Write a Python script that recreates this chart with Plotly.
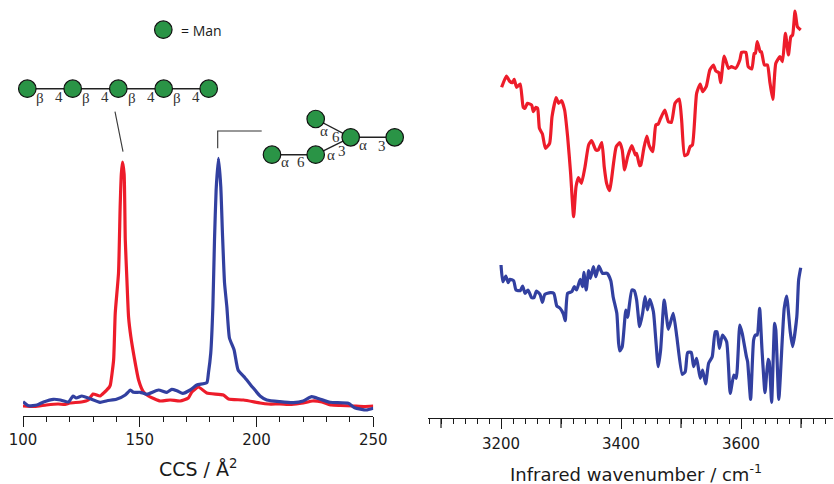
import plotly.graph_objects as go

# ---- Collision cross section data (CCS in A^2, relative intensity) ----
ccs_red_x = [100,105,110,115,118,120,125,128,130,133,135,137,137.4,138.8,139.5,140.9,141.6,142.1,142.6,143.3,143.8,144.5,145.2,146.2,147.6,149.5,151.6,153.7,158.8,163,167.3,170.8,172.3,175.1,178.7,185.8,188,194.4,201.5,205,210,215,220,224,228,232,236,241.4,246,250]
ccs_red_y = [10,9.5,11,12,11.5,13,14,16,22,20,24,29,31,56,103,143,209,242,254,242,176,136,99,79,59,36,24,20,15,16,15,18,24,29,23,21,17,16,13,12,12,11.5,13,15,14,11,10.5,10,9.5,10]
ccs_blue_x = [100,102.4,106,108.8,113,116,119.5,121.4,122.8,125.2,128,133,136,140,143.8,146,147.3,150.2,153,158,161.6,163.7,165.9,168.4,171.6,174.4,178.7,179.4,180.4,181.3,182,182.7,183.7,184.7,185.4,186.3,187.3,188.4,190.4,192.1,195.1,198.6,201.5,204.4,210,215.8,220,223.6,227,231.5,239.3,242,247,250]
ccs_blue_y = [14.3,10.3,11,14,16.7,16,14,20,18,20,18,13.7,15.3,16.7,21,26,23.7,23.7,21.7,26,23.7,26.7,25.3,22.7,26,31,33.3,43,63,109,176,226,257.7,229,183,133,109,78,66,46,38,28,20,16,14.3,13.3,15,19.3,17,13.7,12.7,8.3,6,7.7]

# ---- Infrared spectra (wavenumber in cm-1, offset intensity) ----
ir_red_x = [3201,3209,3214,3219,3222,3226,3232,3237,3240,3244,3251,3254,3258,3261,3264,3269,3274,3281,3285,3292,3296,3301,3306,3311,3316,3321,3325,3329,3334,3340,3346,3351,3358,3362,3368,3372,3376,3381,3384,3392,3398,3402,3406,3411,3418,3424,3426,3431,3433,3438,3443,3447,3453,3458,3462,3466,3473,3479,3484,3490,3497,3501,3506,3511,3515,3519,3526,3532,3536,3542,3548,3554,3558,3563,3566,3572,3579,3584,3591,3598,3601,3608,3612,3618,3622,3624,3627,3632,3634,3639,3644,3648,3653,3658,3665,3669,3674,3679,3683,3686,3690,3694,3699.5]
ir_red_y = [328.7,340,335,333.3,336.7,328.7,332,308.7,307.7,312.7,311,304.3,308.7,307.7,287.7,282,267.7,272.7,299.3,318.3,312.7,315.3,306,279.3,242.7,199.3,229.3,238.3,232.7,249.3,271,275.3,266,266,273.3,249.3,232.7,225.3,236,269.3,273.3,266,246,259.3,270.3,261,262.7,250.3,251,267.7,280,270.3,264.3,291,292,297.7,306,294.3,293.7,312.7,317,296,260.3,262,269.3,271,322.7,332,324.3,329.3,346,351,345,343.3,333.3,360,347.7,349.3,347.7,356,363.7,363.7,349.3,347,362.7,362.7,374.3,364.3,364.3,351,351,334.3,316.7,352.7,359.3,354.3,382.7,361,379.3,381,405,389.3,386]
ir_blue_x = [3200,3203,3208,3212,3215,3221,3225,3232,3236,3240,3245,3251,3255,3259,3265,3269,3273,3282,3288,3293,3298,3304,3307,3311,3318,3322,3326,3332,3336,3338,3342,3346,3349,3354,3358,3363,3369,3377,3383,3387,3393,3396,3398,3402,3408,3411,3418,3422,3426,3431,3436,3440,3444,3448,3454,3458,3462,3466,3472,3479,3487,3493,3502,3507,3511,3517,3521,3526,3532,3536,3541,3546,3552,3557,3560,3564,3569,3576,3582,3588,3592,3598,3602,3609,3611,3616,3621,3624,3627,3631,3635,3640,3645,3647,3651,3656,3658,3663,3669,3672,3676,3682,3686,3693,3696,3699.5]
ir_blue_y = [151,134.3,140,133.3,136.7,135.3,126,125.3,130,122.7,126,118.3,118.3,125,121.7,113.7,121.7,123.3,122.7,110,108,102,95.3,122.7,124.3,129.3,126,136.7,129.3,143.7,126,145.3,137.7,149.3,139.3,150,142.7,142.7,135.3,118.7,102.7,72.7,65,69.3,106,98.7,126,125.3,116,89.3,102.7,119.3,106,116.7,104.3,76,49.3,66,116,86.7,102.7,79.3,41.7,44.3,63.3,63.7,49.3,57.7,37.7,46,32,52.7,59.3,84.3,84.3,67.7,81,74.3,22.7,41,37.7,91,82.7,59.3,54.3,16.7,76,81,81,107.7,66,23.3,56.7,54.3,13.7,92.7,86,16.7,79.3,107.7,120,84.3,69.3,99.3,136,148.3]

ccs_ticks = [100, 150, 200, 250]
ir_ticks = [3200, 3400, 3600]
ir_long_ticks = [3100, 3300, 3500, 3700]

RED = "#ED1C2A"
BLUE = "#3240A0"
GREEN = "#2A9446"
INK = "#1a1a1a"
FONT = "DejaVu Sans"
W, H = 834, 484

fig = go.Figure()

for xs, ys, c, xa, ya, name in [
    (ccs_red_x, ccs_red_y, RED, "x", "y", "β-linked"),
    (ccs_blue_x, ccs_blue_y, BLUE, "x", "y", "α-linked"),
    (ir_red_x, ir_red_y, RED, "x2", "y2", "β-linked IR"),
    (ir_blue_x, ir_blue_y, BLUE, "x2", "y2", "α-linked IR"),
]:
    fig.add_trace(go.Scatter(x=xs, y=ys, mode="lines", name=name, xaxis=xa, yaxis=ya,
                             line=dict(color=c, width=3.2, shape="spline", smoothing=0.5), hoverinfo="skip"))

# ---- Glycan schematic, drawn on an overlay axis measured in canvas pixels ----
def seg(pts, width=1.4, color="#222222"):
    fig.add_trace(go.Scatter(x=[p[0] for p in pts], y=[p[1] for p in pts], mode="lines",
                             xaxis="x3", yaxis="y3", hoverinfo="skip",
                             line=dict(color=color, width=width)))

chain = [(27.3, 88.7), (72.7, 88.7), (118.3, 88.7), (163.7, 88.7), (208.7, 88.7)]
A, B, C, D, E = (315.7, 119), (350.7, 137.3), (394.7, 137.3), (315.7, 154.7), (272, 154.7)
seg(chain)
seg([A, B]); seg([B, C]); seg([B, D]); seg([D, E])
seg([(115, 111.7), (123, 151.7)], 1.1, "#333333")
seg([(261.7, 131), (217.7, 131), (217.7, 148.3)], 1.1, "#333333")
circles = chain + [A, B, C, D, E, (163.3, 29.7)]
fig.add_trace(go.Scatter(x=[p[0] for p in circles], y=[p[1] for p in circles], mode="markers",
                         xaxis="x3", yaxis="y3", hoverinfo="skip",
                         marker=dict(size=17.5, color=GREEN, line=dict(color="#111111", width=1.2))))

labels = [("β", 40, 98), ("4", 59.3, 97), ("β", 85.7, 98), ("4", 105, 97), ("β", 131.7, 98), ("4", 150.7, 97),
          ("β", 177, 98), ("4", 196, 97), ("α", 324, 130.7), ("6", 335.7, 137.3), ("α", 363.3, 145),
          ("3", 382, 145.7), ("α", 330.7, 155), ("3", 342.3, 151), ("α", 285, 162.3), ("6", 301.3, 162.3)]
anns = [dict(x=x, y=y, xref="x3", yref="y3", text=t, showarrow=False,
             font=dict(family="Liberation Serif", size=15, color="#333333")) for t, x, y in labels]
anns.append(dict(x=178.5, y=30, xref="x3", yref="y3", xanchor="left", text="= Man", showarrow=False,
                 font=dict(family="Open Sans", size=14, color=INK)))
anns.append(dict(x=635.5, y=473, xref="x3", yref="y3", text="Infrared wavenumber / cm<sup>-1</sup>", showarrow=False,
                 font=dict(family=FONT, size=18, color=INK)))

axis_common = dict(showgrid=False, zeroline=False, showline=True, linecolor=INK, linewidth=1.3,
                   ticks="outside", ticklen=10, tickwidth=1.2, tickcolor=INK, automargin=False,
                   tickfont=dict(family=FONT, size=15, color=INK), tickangle=0)

shapes = [dict(type="line", xref="x2", yref="paper", x0=v, x1=v, y0=1 - 418 / H, y1=1 - 428 / H,
               line=dict(color=INK, width=1.2)) for v in ir_long_ticks]

fig.update_layout(
    template="none",
    width=W, height=H, autosize=False, showlegend=False,
    margin=dict(l=0, r=0, t=0, b=0, pad=0), paper_bgcolor="white", plot_bgcolor="rgba(0,0,0,0)",
    annotations=anns, shapes=shapes,
    xaxis=dict(domain=[23 / W, 373.3 / W], range=[100, 250], anchor="y", tickmode="array",
               tickvals=ccs_ticks, minor=dict(dtick=10, tick0=100, ticks="outside", ticklen=5, tickwidth=1.2, tickcolor=INK),
               title=dict(text="CCS / Å<sup>2</sup>", font=dict(family=FONT, size=19, color=INK), standoff=14),
               **axis_common),
    yaxis=dict(domain=[1 - 416 / H, 1], range=[0, 416], visible=False, anchor="x", automargin=False),
    xaxis2=dict(domain=[428 / W, 833 / W], range=[3078.3, 3753.3], anchor="y2", tickmode="array",
                tickvals=ir_ticks, ticklabelstandoff=2,
                minor=dict(dtick=20, tick0=3200, ticks="outside", ticklen=5, tickwidth=1.2, tickcolor=INK),
                **axis_common),
    yaxis2=dict(domain=[1 - 418 / H, 1], range=[-2, 416], visible=False, anchor="x2", automargin=False),
    xaxis3=dict(domain=[0, 1], range=[0, W], visible=False, anchor="y3", automargin=False),
    yaxis3=dict(domain=[0, 1], range=[H, 0], visible=False, anchor="x3", automargin=False),
)

fig.write_html("out.html", config=dict(displayModeBar=False),
               post_script="document.body.style.margin='0';")
